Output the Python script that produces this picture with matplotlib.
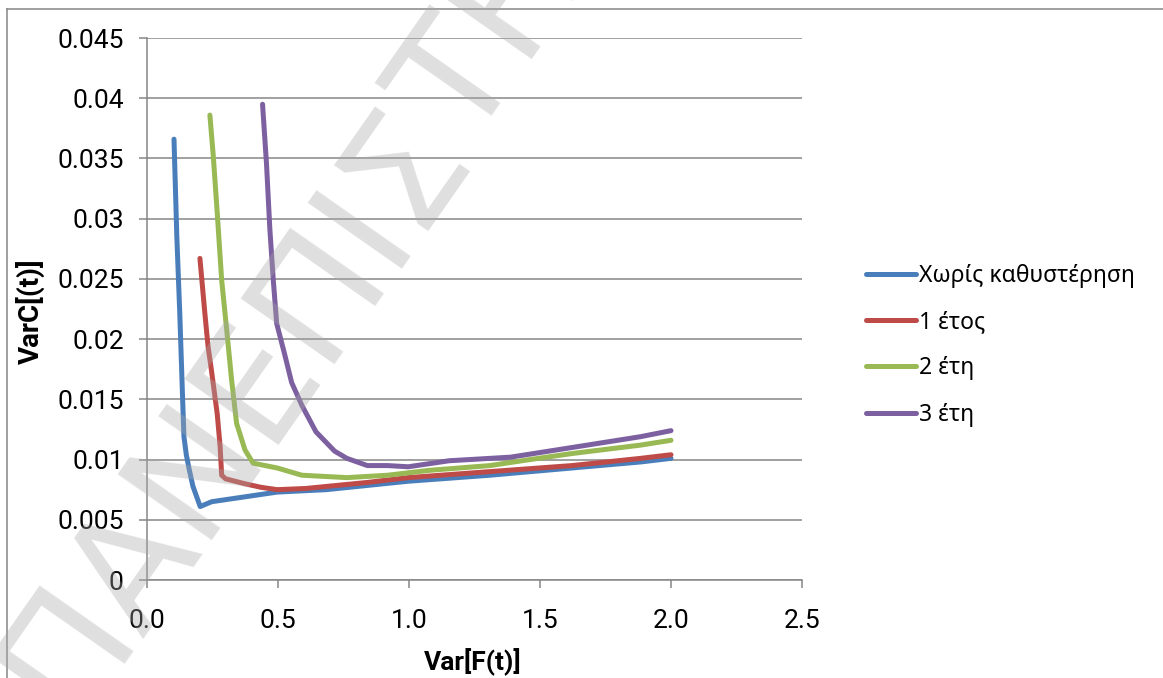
import matplotlib
matplotlib.use("Agg")
import matplotlib.pyplot as plt
from matplotlib.lines import Line2D

# ---- data -------------------------------------------------------------
series_names = ["Χωρίς καθυστέρηση", "1 έτος", "2 έτη", "3 έτη"]
series_colors = ["#4A7EBB", "#BE4B48", "#98B954", "#7D60A0"]

var_f_none = [0.103, 0.114, 0.125, 0.136, 0.141, 0.150, 0.160, 0.175, 0.203, 0.247,
              0.309, 0.403, 0.497, 0.684, 0.997, 1.309, 1.622, 1.884, 2.000]
varc_none = [0.0366, 0.0284, 0.0222, 0.0150, 0.0119, 0.0104, 0.0093, 0.0078, 0.0061, 0.0065,
             0.0067, 0.0070, 0.0073, 0.0075, 0.0082, 0.0087, 0.0093, 0.0098, 0.0101]

var_f_1y = [0.202, 0.221, 0.233, 0.246, 0.268, 0.279, 0.285, 0.300, 0.372, 0.434,
            0.497, 0.606, 0.841, 0.997, 1.309, 1.622, 1.884, 2.000]
varc_1y = [0.0267, 0.0221, 0.0194, 0.0174, 0.0138, 0.0111, 0.0087, 0.0084, 0.0080, 0.0077,
           0.0075, 0.0076, 0.0081, 0.0085, 0.0090, 0.0095, 0.0101, 0.0104]

var_f_2y = [0.240, 0.253, 0.268, 0.285, 0.304, 0.323, 0.342, 0.374, 0.405, 0.497,
            0.591, 0.763, 0.919, 1.075, 1.309, 1.462, 1.622, 1.884, 2.000]
varc_2y = [0.0386, 0.0352, 0.0305, 0.0249, 0.0208, 0.0166, 0.0130, 0.0108, 0.0097, 0.0093,
           0.0087, 0.0085, 0.0087, 0.0091, 0.0095, 0.0100, 0.0105, 0.0112, 0.0116]

var_f_3y = [0.441, 0.456, 0.469, 0.482, 0.495, 0.527, 0.552, 0.591, 0.645, 0.716,
            0.763, 0.841, 0.919, 0.997, 1.153, 1.388, 1.622, 1.884, 2.000]
varc_3y = [0.0395, 0.0346, 0.0291, 0.0249, 0.0213, 0.0186, 0.0164, 0.0145, 0.0123, 0.0107,
           0.0101, 0.0095, 0.0095, 0.0094, 0.0099, 0.0102, 0.0110, 0.0119, 0.0124]

x_ticks = [0.0, 0.5, 1.0, 1.5, 2.0, 2.5]
x_tick_labels = ["0.0", "0.5", "1.0", "1.5", "2.0", "2.5"]
y_ticks = [0, 0.005, 0.01, 0.015, 0.02, 0.025, 0.03, 0.035, 0.04, 0.045]
y_tick_labels = ["0", "0.005", "0.01", "0.015", "0.02", "0.025", "0.03", "0.035", "0.04", "0.045"]

x_label = "Var[F(t)]"
y_label = "VarC[(t)]"
watermark_head = "ΠΑΝΕΠΙΣ"
watermark_tail = "ΤΗΜΙΟ ΠΕΙΡΑΙΩΣ"

# ---- figure -----------------------------------------------------------
W, H, DPI = 1163, 678, 100
narrow = ["Liberation Sans Narrow", "Roboto", "DejaVu Sans"]
legend_font = ["Noto Sans", "DejaVu Sans"]
grid_grey = "#868686"

fig = plt.figure(figsize=(W / DPI, H / DPI), dpi=DPI, facecolor="white")
ax = fig.add_axes([147 / W, 1 - 580 / H, (802 - 147) / W, (580 - 38) / H])

xs = [var_f_none, var_f_1y, var_f_2y, var_f_3y]
ys = [varc_none, varc_1y, varc_2y, varc_3y]
handles = []
for x, y, name, c in zip(xs, ys, series_names, series_colors):
    ln, = ax.plot(x, y, color=c, lw=3.6, solid_capstyle="round",
                  solid_joinstyle="round", label=name, zorder=3)
    handles.append(ln)

ax.set_xlim(0, 2.5)
ax.set_ylim(0, 0.045)
ax.set_xticks(x_ticks)
ax.set_xticklabels(x_tick_labels, family=narrow, fontsize=19)
ax.set_yticks(y_ticks)
ax.set_yticklabels(y_tick_labels, family=narrow, fontsize=19)
ax.tick_params(axis="both", direction="out", length=5.8, width=1.1, color=grid_grey)
ax.tick_params(axis="y", pad=11)
ax.tick_params(axis="x", pad=15)

ax.grid(axis="y", color=grid_grey, lw=1.1, zorder=1)
ax.grid(axis="x", visible=False)
for s in ("top", "right"):
    ax.spines[s].set_visible(False)
for s in ("left", "bottom"):
    ax.spines[s].set_color(grid_grey)
    ax.spines[s].set_linewidth(1.1)
ax.set_axisbelow(True)

fig.text(30 / W, 1 - 311 / H, y_label, rotation=90, ha="center", va="center",
         family=narrow, fontsize=20, fontweight="bold")
fig.text(473 / W, 1 - 662 / H, x_label, ha="center", va="center",
         family=narrow, fontsize=19, fontweight="bold")

leg = fig.legend(handles=handles, loc="upper left",
                 bbox_to_anchor=(866 / W, 1 - 264 / H),
                 frameon=False, prop={"family": legend_font, "size": 16.5},
                 handlelength=2.2, handletextpad=0.1, labelspacing=0.97,
                 borderaxespad=0, borderpad=0)

# chart-area border
fig.add_artist(Line2D([7 / W, 7 / W], [-0.05, 1 - 9 / H], transform=fig.transFigure,
                      color=grid_grey, lw=1.1))
fig.add_artist(Line2D([7 / W, 1.05], [1 - 9 / H, 1 - 9 / H], transform=fig.transFigure,
                      color=grid_grey, lw=1.1))

# diagonal watermark, split so both halves meet at the same baseline point
wm_style = dict(rotation=55, rotation_mode="anchor", va="baseline",
                family=["DejaVu Sans"], fontsize=112, color="#a8a8a8",
                alpha=0.36, zorder=10)
wm_x, wm_y = 470 / W, 1 - 149 / H
fig.text(wm_x, wm_y, watermark_head, ha="right", **wm_style)
fig.text(wm_x, wm_y, watermark_tail, ha="left", **wm_style)

fig.savefig("out.png", dpi=DPI, facecolor="white")
